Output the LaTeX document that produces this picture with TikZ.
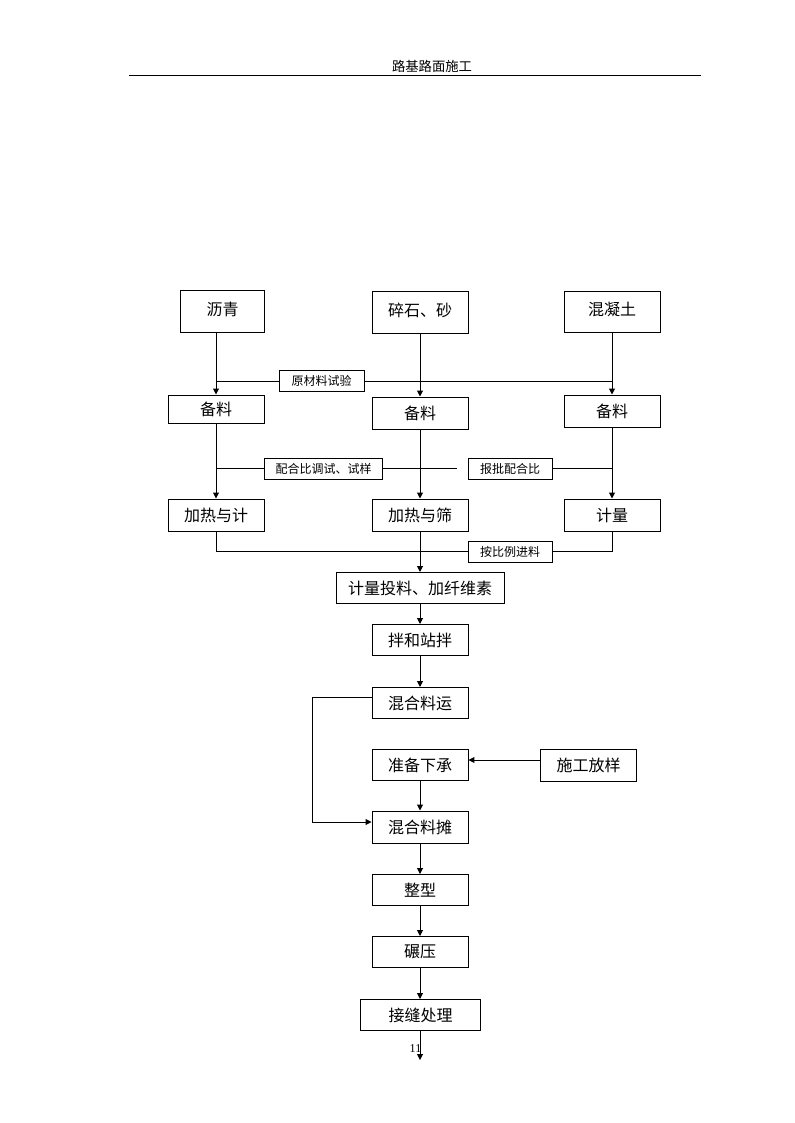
\documentclass[tikz,border=0pt]{standalone}
\usepackage{fontspec}
\setmainfont{Liberation Serif}
\newfontfamily\cjk{Noto Sans CJK SC}
\usetikzlibrary{arrows.meta}
\begin{document}
\begin{tikzpicture}[x=0.75bp,y=-0.75bp,
  line width=0.75bp,
  wh/.style 2 args={minimum width=#1*0.75bp, minimum height=#2*0.75bp},
  box/.style={draw,fill=white,inner sep=0pt,font=\cjk\fontsize{12bp}{14bp}\selectfont},
  topbox/.style={box,text depth=5bp},
  lbl/.style={draw,fill=white,inner sep=0pt,font=\cjk\fontsize{9bp}{11bp}\selectfont},
  arr/.style={-{Triangle[length=4.5pt,width=4.5pt]}}]
\useasboundingbox (0,0) rectangle (794,1123);
% header
\node[font=\cjk\fontsize{10bp}{12bp}\selectfont] (hdr) at (432,66) {路基路面施工};
\coordinate (hl) at (129,76);
\coordinate (hr) at (701,76);
\draw (hl) -- (hr);
% top row
\node[topbox,wh={84}{42}] (lq) at (222.5,312) {沥青};
\node[topbox,wh={96}{42}] (sx) at (420,313) {碎石、砂};
\node[topbox,wh={96}{41}] (hnt) at (612,312.5) {混凝土};
% 备料
\node[box,wh={96}{28}] (bl1) at (216,409) {备料};
\node[box,wh={96}{32}] (bl2) at (420,413) {备料};
\node[box,wh={96}{32}] (bl3) at (612,411) {备料};
% 加热
\node[box,wh={96}{32}] (jr1) at (216,515) {加热与计};
\node[box,wh={96}{32}] (jr2) at (420,515) {加热与筛};
\node[box,wh={96}{32}] (jl) at (612,515) {计量};
% chain
\node[box,wh={168}{31}] (jt) at (420,588) {计量投料、加纤维素};
\node[box,wh={96}{31}] (bh) at (420,640) {拌和站拌};
\node[box,wh={96}{31}] (hy) at (420,703) {混合料运};
\node[box,wh={96}{31}] (zb) at (420,765) {准备下承};
\node[box,wh={96}{32}] (sg) at (588.5,765.5) {施工放样};
\node[box,wh={96}{32}] (ht) at (420,827) {混合料摊};
\node[box,wh={96}{31}] (zx) at (420,890) {整型};
\node[box,wh={96}{31}] (ny) at (420,952) {碾压};
\node[box,wh={120}{31}] (jf) at (420.5,1015) {接缝处理};
% vertical arrows, top
\draw[arr] (bl1.north |- lq.south) -- (bl1.north);
\draw[arr] (sx.south) -- (bl2.north);
\draw[arr] (hnt.south) -- (bl3.north);
\draw[arr] (bl1.south) -- (jr1.north);
\draw[arr] (bl2.south) -- (jr2.north);
\draw[arr] (bl3.south) -- (jl.north);
% row 1 horizontal
\coordinate (r1l) at (216,381);
\coordinate (r1r) at (612,381);
\draw (r1l) -- (r1r);
\node[lbl,wh={85}{21}] (ycl) at (321.5,381) {原材料试验};
% row 2 horizontal
\coordinate (r2l) at (216,468.5);
\coordinate (r2m) at (456.5,468.5);
\coordinate (r2r) at (612,468.5);
\draw (r2l) -- (r2m);
\node[lbl,wh={118}{21}] (phb) at (323.5,469) {配合比调试、试样};
\node[lbl,wh={84}{21}] (bp) at (510,469) {报批配合比};
\draw (bp.east |- r2r) -- (r2r);
% row 3
\coordinate (r3l) at (216,551);
\coordinate (r3r) at (612,551);
\draw (jr1.south) -- (r3l) -- (r3r) -- (jl.south);
\node[lbl,wh={84}{21}] (abl) at (510,552) {按比例进料};
\draw[arr] (jr2.south) -- (jt.north);
% chain arrows
\draw[arr] (jt.south) -- (bh.north);
\draw[arr] (bh.south) -- (hy.north);
\coordinate (sgy) at (540,760);
\draw[arr] (sgy) -- (zb.east |- sgy);
\draw[arr] (zb.south) -- (ht.north);
\coordinate (lpa) at (312.5,697.5);
\coordinate (lpb) at (312.5,822);
\draw[arr] (hy.west |- lpa) -- (lpa) -- (lpb) -- (ht.west |- lpb);
\draw[arr] (ht.south) -- (zx.north);
\draw[arr] (zx.south) -- (ny.north);
\draw[arr] (ny.south) -- (ny.south |- jf.north);
\coordinate (endp) at (420,1060);
\draw[arr] (endp |- jf.south) -- (endp);
\node[font=\fontsize{9bp}{10bp}\selectfont,inner sep=0pt] (pg) at (415.5,1049) {11};
\end{tikzpicture}
\end{document}
